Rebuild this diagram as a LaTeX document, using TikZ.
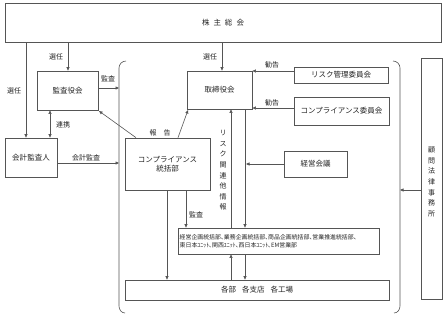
\documentclass[tikz,border=0pt]{standalone}
\usepackage{fontspec}
\setmainfont{Noto Sans CJK JP}
\usetikzlibrary{arrows.meta}
\definecolor{ln}{HTML}{555555}
\definecolor{tx}{HTML}{222222}
\tikzset{
  box/.style={draw=ln, line width=0.7pt, inner sep=0pt, text=tx, font=\fontsize{7.5}{9}\selectfont, align=center},
  arr/.style={draw=ln, line width=0.6pt, -{Triangle[length=3.5pt,width=3pt]}},
  barr/.style={draw=ln, line width=0.6pt, {Triangle[length=3.5pt,width=3pt]}-{Triangle[length=3.5pt,width=3pt]}},
  lbl/.style={text=tx, inner sep=0pt, font=\fontsize{7}{8}\selectfont},
  vtxt/.style={text=tx, inner sep=0pt, font=\fontsize{7}{10.6}\selectfont, align=center},
  brk/.style={draw=ln, line width=0.6pt}
}
\begin{document}
\begin{tikzpicture}[x=1pt,y=-1pt]
\useasboundingbox (0,0) rectangle (446,317);
% boxes
\node[box, minimum width=436, minimum height=39] (kabu) at (223,22.5) {株\hspace{4pt}主\hspace{4pt}総\hspace{4pt}会};
\node[box, minimum width=61, minimum height=39] (kansa) at (67.5,90.5) {監査役会};
\node[box, minimum width=65, minimum height=38] (tori) at (219.5,90) {取締役会};
\node[box, minimum width=94, minimum height=16] (risk) at (341,75) {リスク管理委員会};
\node[box, minimum width=95, minimum height=28] (comp) at (341.5,111) {コンプライアンス委員会};
\node[box, minimum width=52, minimum height=39] (kaikei) at (31,157.5) {会計監査人};
\node[box, minimum width=85, minimum height=52] (touk) at (167.5,164) {コンプライアンス\\統括部};
\node[box, minimum width=63, minimum height=26] (keiei) at (315.5,164) {経営会議};
\node[box, minimum width=21, minimum height=241] (komon) at (431.5,178.5) {};
\node[vtxt] (komontxt) at (431.5,182) {顧\\問\\法\\律\\事\\務\\所};
\node[box, minimum width=201, minimum height=26, align=left, font=\fontsize{5.6}{7.5}\selectfont] (biz) at (278.5,241) {};
\node[text=tx, inner sep=0pt, anchor=west, align=left, font=\fontsize{5.9}{7.5}\selectfont] (biztxt) at (179.5,241) {経営企画統括部､業務企画統括部､商品企画統括部､営業推進統括部､\\東日本ﾕﾆｯﾄ､関西ﾕﾆｯﾄ､西日本ﾕﾆｯﾄ､EM営業部};
\node[box, minimum width=264, minimum height=20] (kakubu) at (257,290) {各部\hspace{6pt}各支店\hspace{6pt}各工場};
% bracket
\coordinate (bL) at (119,0);
\coordinate (bR) at (400,0);
\draw[brk] (126,61) to[out=180,in=90] (119,68) -- (119,306) to[out=-90,in=180] (125,313);
\draw[brk] (393,61) to[out=0,in=90] (400,68) -- (400,306) to[out=-90,in=0] (394,313);
% connectors
\draw[arr] (kabu.south -| 26,0) -- (kaikei.north -| 26,0);
\draw[arr] (kabu.south -| 68,0) -- (kansa.north -| 68,0);
\draw[arr] (kabu.south -| 222,0) -- (tori.north -| 222,0);
\draw[arr] (kansa.east |- 0,88) -- (bL |- 0,88);
\draw[arr] (risk.west |- 0,71) -- (tori.east |- 0,71);
\draw[arr] (comp.west |- 0,108) -- (tori.east |- 0,108);
\draw[barr] (kansa.south -| 50,0) -- (kaikei.north -| 50,0);
\draw[arr] (kaikei.east |- 0,163) -- (bL |- 0,163);
\draw[arr] (touk.north -| 136,0) -- (99,111);
\draw[arr] (touk.north -| 178,0) -- (188,110);
\draw[arr] (biz.north -| 231,0) -- (tori.south -| 231,0);
\draw[arr] (tori.south -| 245,0) -- (biz.north -| 245,0);
\coordinate (kj) at (246,164);
\draw[arr] (keiei.west) -- (kj);
\draw[arr] (touk.south -| 186,0) -- (biz.north -| 186,0);
\draw[arr] (touk.south -| 167,0) -- (kakubu.north -| 167,0);
\draw[arr] (kakubu.north -| 231,0) -- (biz.south -| 231,0);
\draw[arr] (biz.south -| 245,0) -- (kakubu.north -| 245,0);
\draw[arr] (komon.west |- 0,190) -- (bR |- 0,190);
% labels
\node[lbl] (l1) at (14,91) {選任};
\node[lbl] (l2) at (56,57) {選任};
\node[lbl] (l3) at (210,57) {選任};
\node[lbl] (l4) at (108,79) {監査};
\node[lbl] (l5) at (272,65) {勧告};
\node[lbl] (l6) at (272,103) {勧告};
\node[lbl] (l7) at (63,125) {連携};
\node[lbl] (l8) at (86,158) {会計監査};
\node[lbl] (l9) at (160,133) {報\hspace{7pt}告};
\node[lbl] (l10) at (196,215) {監査};
\node[vtxt] (l11) at (223,170.5) {リ\\ス\\ク\\関\\連\\他\\情\\報};
\end{tikzpicture}
\end{document}
